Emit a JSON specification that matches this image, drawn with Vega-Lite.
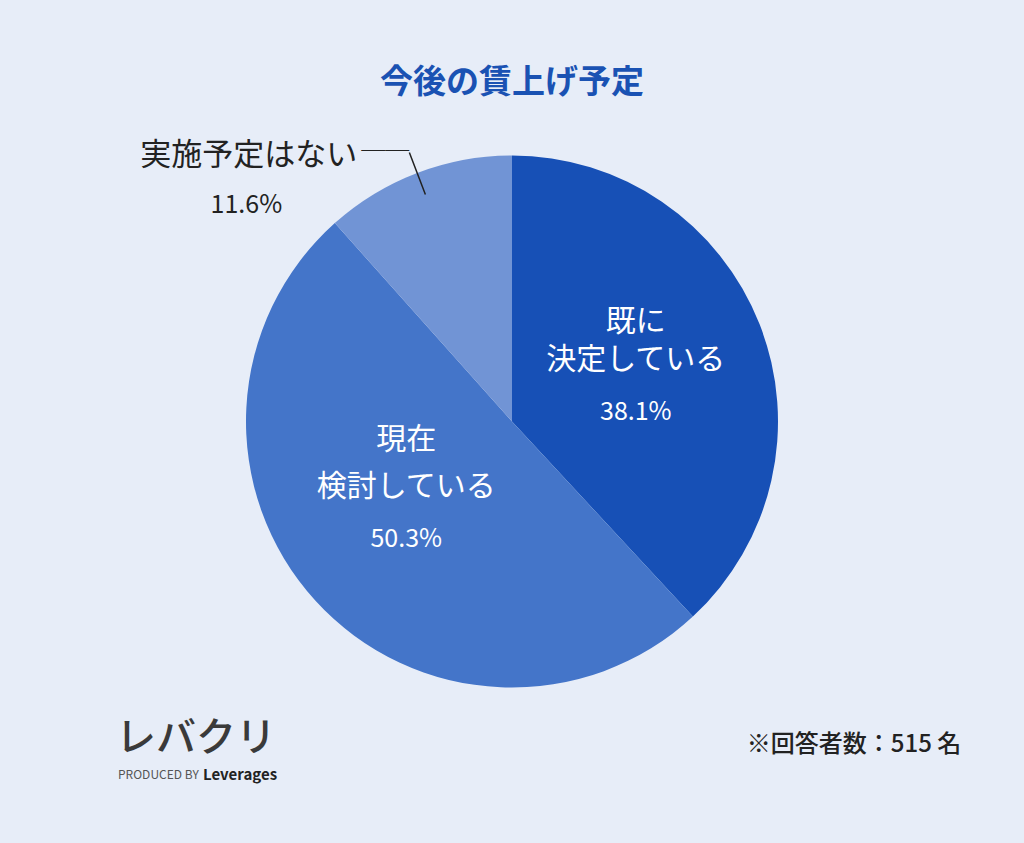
{
  "$schema": "https://vega.github.io/schema/vega-lite/v6.json",
  "width": 1024,
  "height": 843,
  "autosize": {"type": "fit", "contains": "padding"},
  "padding": 0,
  "background": "#e7edf8",
  "title": {
    "text": "今後の賃上げ予定",
    "anchor": "middle",
    "baseline": "middle",
    "offset": -116,
    "font": "Noto Sans CJK JP",
    "fontSize": 33,
    "fontWeight": "bold",
    "color": "#1a52b3"
  },
  "data": {
    "values": [
      {"idx": 1, "cat": "既に決定している", "label": "既に\n決定している", "share": 0.381},
      {"idx": 2, "cat": "現在検討している", "label": "現在\n検討している", "share": 0.503},
      {"idx": 3, "cat": "実施予定はない", "label": "実施予定はない", "share": 0.116}
    ]
  },
  "layer": [
    {
      "mark": {"type": "arc", "outerRadius": 266},
      "encoding": {
        "theta": {"field": "share", "type": "quantitative", "stack": true},
        "order": {"field": "idx", "type": "quantitative"},
        "color": {
          "field": "cat",
          "type": "nominal",
          "scale": {
            "domain": ["既に決定している", "現在検討している", "実施予定はない"],
            "range": ["#1750b6", "#4475c9", "#7194d5"]
          },
          "legend": null
        }
      }
    },
    {
      "mark": {"type": "arc", "outerRadius": 288, "innerRadius": 243, "padAngle": 3.14, "fillOpacity": 0, "stroke": "#222222", "strokeWidth": 1.5},
      "encoding": {
        "theta": {"field": "share", "type": "quantitative", "stack": true},
        "order": {"field": "idx", "type": "quantitative"},
        "strokeOpacity": {"condition": {"test": "datum.idx === 3", "value": 1}, "value": 0}
      }
    },
    {
      "mark": {"type": "text", "radius": 133, "dy": -51, "lineBreak": "\n", "lineHeight": 38, "font": "Noto Sans CJK JP", "fontSize": 30, "color": "white", "baseline": "middle"},
      "encoding": {
        "theta": {"field": "share", "type": "quantitative", "stack": true},
        "order": {"field": "idx", "type": "quantitative"},
        "text": {"condition": {"test": "datum.idx === 1", "field": "label"}, "value": ""}
      }
    },
    {
      "mark": {"type": "text", "radius": 133, "dy": 39, "font": "Noto Sans CJK JP", "fontSize": 25, "color": "white", "baseline": "middle"},
      "encoding": {
        "theta": {"field": "share", "type": "quantitative", "stack": true},
        "order": {"field": "idx", "type": "quantitative"},
        "text": {"condition": {"test": "datum.idx === 1", "field": "share", "format": ".1%"}, "value": ""}
      }
    },
    {
      "mark": {"type": "text", "radius": 143, "dy": -78, "lineBreak": "\n", "lineHeight": 47, "font": "Noto Sans CJK JP", "fontSize": 30, "color": "white", "baseline": "middle"},
      "encoding": {
        "theta": {"field": "share", "type": "quantitative", "stack": true},
        "order": {"field": "idx", "type": "quantitative"},
        "text": {"condition": {"test": "datum.idx === 2", "field": "label"}, "value": ""}
      }
    },
    {
      "mark": {"type": "text", "radius": 143, "dy": 21, "font": "Noto Sans CJK JP", "fontSize": 25, "color": "white", "baseline": "middle"},
      "encoding": {
        "theta": {"field": "share", "type": "quantitative", "stack": true},
        "order": {"field": "idx", "type": "quantitative"},
        "text": {"condition": {"test": "datum.idx === 2", "field": "share", "format": ".1%"}, "value": ""}
      }
    },
    {
      "mark": {"type": "text", "radius": 288, "dx": -52, "dy": 4, "align": "right", "font": "Noto Sans CJK JP", "fontSize": 31, "color": "#222222", "baseline": "middle"},
      "encoding": {
        "theta": {"field": "share", "type": "quantitative", "stack": true},
        "order": {"field": "idx", "type": "quantitative"},
        "text": {"condition": {"test": "datum.idx === 3", "field": "label"}, "value": ""}
      }
    },
    {
      "mark": {"type": "text", "radius": 288, "dx": 0, "dy": 0, "align": "right", "font": "Noto Sans CJK JP", "fontSize": 24, "color": "#222222", "baseline": "middle"},
      "encoding": {
        "theta": {"field": "share", "type": "quantitative", "stack": true},
        "order": {"field": "idx", "type": "quantitative"},
        "text": {"condition": {"test": "datum.idx === 3", "value": "──"}, "value": ""}
      }
    },
    {
      "mark": {"type": "text", "radius": 288, "dx": -163, "dy": 53, "font": "Noto Sans CJK JP", "fontSize": 25, "color": "#222222", "baseline": "middle"},
      "encoding": {
        "theta": {"field": "share", "type": "quantitative", "stack": true},
        "order": {"field": "idx", "type": "quantitative"},
        "text": {"condition": {"test": "datum.idx === 3", "field": "share", "format": ".1%"}, "value": ""}
      }
    },
    {
      "data": {"values": [{"note": "※回答者数：515 名"}]},
      "mark": {"type": "text", "dx": 342, "dy": 323, "font": "Noto Sans CJK JP", "fontSize": 24, "fontWeight": 500, "color": "#222222", "baseline": "middle"},
      "encoding": {"text": {"field": "note"}}
    },
    {
      "data": {"values": [{"brand": "レバクリ"}]},
      "mark": {"type": "text", "dx": -316, "dy": 317, "font": "Noto Sans CJK JP", "fontSize": 40, "fontWeight": 500, "color": "#3a3a3a", "baseline": "middle"},
      "encoding": {"text": {"field": "brand"}}
    },
    {
      "data": {"values": [{"by": "PRODUCED BY"}]},
      "mark": {"type": "text", "dx": -394, "dy": 353, "align": "left", "font": "Noto Sans CJK JP", "fontSize": 12, "color": "#555555", "baseline": "middle"},
      "encoding": {"text": {"field": "by"}}
    },
    {
      "data": {"values": [{"company": "Leverages"}]},
      "mark": {"type": "text", "dx": -309, "dy": 353, "align": "left", "font": "Noto Sans CJK JP", "fontSize": 15, "fontWeight": "bold", "color": "#222222", "baseline": "middle"},
      "encoding": {"text": {"field": "company"}}
    }
  ],
  "config": {
    "view": {"stroke": null}
  }
}
